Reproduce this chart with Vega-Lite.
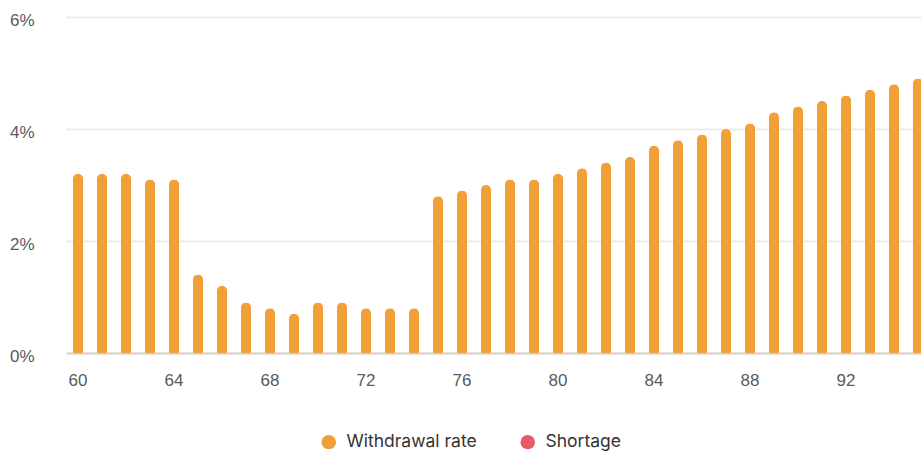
{
  "$schema": "https://vega.github.io/schema/vega-lite/v6.json",
  "autosize": "none",
  "width": 855,
  "height": 336,
  "padding": {"left": 66, "top": 17, "right": 0, "bottom": 98},
  "background": "#ffffff",
  "config": {
    "view": {"stroke": null},
    "axis": {"labelFont": "Liberation Sans", "labelFontSize": 17, "labelColor": "#5a5a5a", "ticks": false, "title": null}
  },
  "data": {
    "values": [
      {"age": 60, "rate": 3.2, "series": "Withdrawal rate"},
      {"age": 61, "rate": 3.2, "series": "Withdrawal rate"},
      {"age": 62, "rate": 3.2, "series": "Withdrawal rate"},
      {"age": 63, "rate": 3.1, "series": "Withdrawal rate"},
      {"age": 64, "rate": 3.1, "series": "Withdrawal rate"},
      {"age": 65, "rate": 1.4, "series": "Withdrawal rate"},
      {"age": 66, "rate": 1.2, "series": "Withdrawal rate"},
      {"age": 67, "rate": 0.9, "series": "Withdrawal rate"},
      {"age": 68, "rate": 0.8, "series": "Withdrawal rate"},
      {"age": 69, "rate": 0.7, "series": "Withdrawal rate"},
      {"age": 70, "rate": 0.9, "series": "Withdrawal rate"},
      {"age": 71, "rate": 0.9, "series": "Withdrawal rate"},
      {"age": 72, "rate": 0.8, "series": "Withdrawal rate"},
      {"age": 73, "rate": 0.8, "series": "Withdrawal rate"},
      {"age": 74, "rate": 0.8, "series": "Withdrawal rate"},
      {"age": 75, "rate": 2.8, "series": "Withdrawal rate"},
      {"age": 76, "rate": 2.9, "series": "Withdrawal rate"},
      {"age": 77, "rate": 3.0, "series": "Withdrawal rate"},
      {"age": 78, "rate": 3.1, "series": "Withdrawal rate"},
      {"age": 79, "rate": 3.1, "series": "Withdrawal rate"},
      {"age": 80, "rate": 3.2, "series": "Withdrawal rate"},
      {"age": 81, "rate": 3.3, "series": "Withdrawal rate"},
      {"age": 82, "rate": 3.4, "series": "Withdrawal rate"},
      {"age": 83, "rate": 3.5, "series": "Withdrawal rate"},
      {"age": 84, "rate": 3.7, "series": "Withdrawal rate"},
      {"age": 85, "rate": 3.8, "series": "Withdrawal rate"},
      {"age": 86, "rate": 3.9, "series": "Withdrawal rate"},
      {"age": 87, "rate": 4.0, "series": "Withdrawal rate"},
      {"age": 88, "rate": 4.1, "series": "Withdrawal rate"},
      {"age": 89, "rate": 4.3, "series": "Withdrawal rate"},
      {"age": 90, "rate": 4.4, "series": "Withdrawal rate"},
      {"age": 91, "rate": 4.5, "series": "Withdrawal rate"},
      {"age": 92, "rate": 4.6, "series": "Withdrawal rate"},
      {"age": 93, "rate": 4.7, "series": "Withdrawal rate"},
      {"age": 94, "rate": 4.8, "series": "Withdrawal rate"},
      {"age": 95, "rate": 4.9, "series": "Withdrawal rate"}
    ]
  },
  "mark": {"type": "bar", "width": 10, "cornerRadiusEnd": 5},
  "encoding": {
    "x": {
      "field": "age",
      "type": "ordinal",
      "scale": {"range": [0, 864], "paddingInner": 0.58, "paddingOuter": 0.29},
      "axis": {
        "values": [60, 64, 68, 72, 76, 80, 84, 88, 92],
        "labelAngle": 0,
        "labelPadding": 19,
        "domainColor": "#D9D3CB",
        "domainWidth": 2,
        "grid": false
      }
    },
    "y": {
      "field": "rate",
      "type": "quantitative",
      "scale": {"domain": [0, 6], "nice": false},
      "axis": {
        "values": [0, 2, 4, 6],
        "labelExpr": "datum.value + '%'",
        "labelPadding": 32,
        "labelOffset": 3,
        "domain": false,
        "gridColor": "#EFEBE7",
        "gridWidth": 2
      }
    },
    "color": {
      "field": "series",
      "type": "nominal",
      "scale": {"domain": ["Withdrawal rate", "Shortage"], "range": ["#F0A037", "#E85A6A"]},
      "legend": {
        "title": null,
        "orient": "none",
        "direction": "horizontal",
        "legendX": 254,
        "legendY": 416,
        "symbolType": "circle",
        "symbolSize": 210,
        "symbolStrokeWidth": 0,
        "symbolOpacity": 1,
        "labelFont": "Inter",
        "labelFontSize": 17.5,
        "labelColor": "#333333",
        "labelOffset": 9,
        "columnPadding": 42
      }
    }
  }
}
